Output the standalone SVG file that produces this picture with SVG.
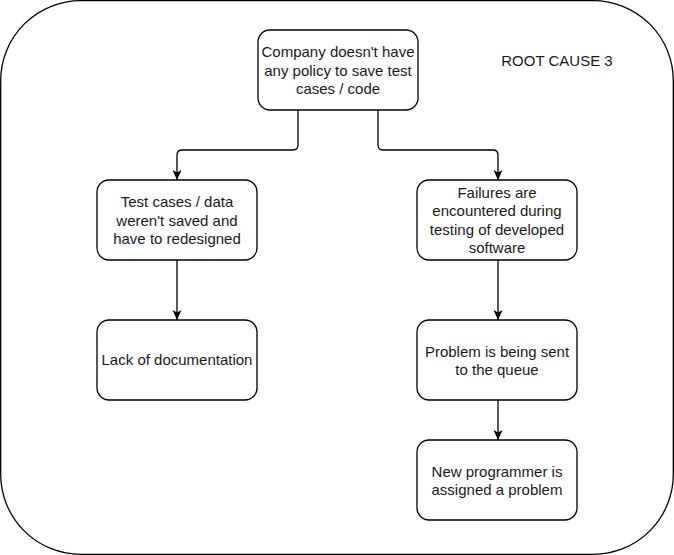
<svg xmlns="http://www.w3.org/2000/svg" width="674" height="555" viewBox="0 0 674 555">
<style>
.box{fill:#fff;stroke:#000;stroke-width:1.3}
.t{font-family:"Liberation Sans",Arial,sans-serif;font-size:15px;fill:#1a1a1a;text-anchor:middle}
.c{fill:none;stroke:#000;stroke-width:1.3}
</style>
<defs>
<marker id="a" markerWidth="10" markerHeight="10" viewBox="0 0 10 10" refX="10" refY="5" orient="auto" markerUnits="userSpaceOnUse">
<path d="M0,0.5 L10,5 L0,9.5 L2.5,5 Z" fill="#000"/>
</marker>
</defs>
<rect x="0.7" y="0.7" width="672.6" height="553.6" rx="80" ry="80" fill="#fff" stroke="#000" stroke-width="1.3"/>
<text class="t" x="557" y="66">ROOT CAUSE 3</text>
<g id="connectors">
<path class="c" d="M298,110 V145 Q298,150 293,150 H182 Q177,150 177,155 V180" marker-end="url(#a)"/>
<path class="c" d="M378,110 V145 Q378,150 383,150 H493 Q498,150 498,155 V180" marker-end="url(#a)"/>
<path class="c" d="M177,260 V320" marker-end="url(#a)"/>
<path class="c" d="M498,260 V320" marker-end="url(#a)"/>
<path class="c" d="M498,400 V440" marker-end="url(#a)"/>
</g>
<g id="n1">
<rect class="box" x="258" y="30" width="160" height="80" rx="12"/>
<text class="t" x="338" y="57">Company doesn't have</text>
<text class="t" x="338" y="75.5">any policy to save test</text>
<text class="t" x="338" y="94">cases / code</text>
</g>
<g id="n2">
<rect class="box" x="97" y="180" width="160" height="80" rx="12"/>
<text class="t" x="177" y="207">Test cases / data</text>
<text class="t" x="177" y="225.5">weren't saved and</text>
<text class="t" x="177" y="244">have to redesigned</text>
</g>
<g id="n3">
<rect class="box" x="97" y="320" width="160" height="80" rx="12"/>
<text class="t" x="177" y="365">Lack of documentation</text>
</g>
<g id="n4">
<rect class="box" x="417" y="180" width="160" height="80" rx="12"/>
<text class="t" x="497" y="197.5">Failures are</text>
<text class="t" x="497" y="216">encountered during</text>
<text class="t" x="497" y="234.5">testing of developed</text>
<text class="t" x="497" y="253">software</text>
</g>
<g id="n5">
<rect class="box" x="417" y="320" width="160" height="80" rx="12"/>
<text class="t" x="497" y="356.5">Problem is being sent</text>
<text class="t" x="497" y="374.5">to the queue</text>
</g>
<g id="n6">
<rect class="box" x="417" y="440" width="160" height="80" rx="12"/>
<text class="t" x="497" y="476.5">New programmer is</text>
<text class="t" x="497" y="494.5">assigned a problem</text>
</g>
</svg>
